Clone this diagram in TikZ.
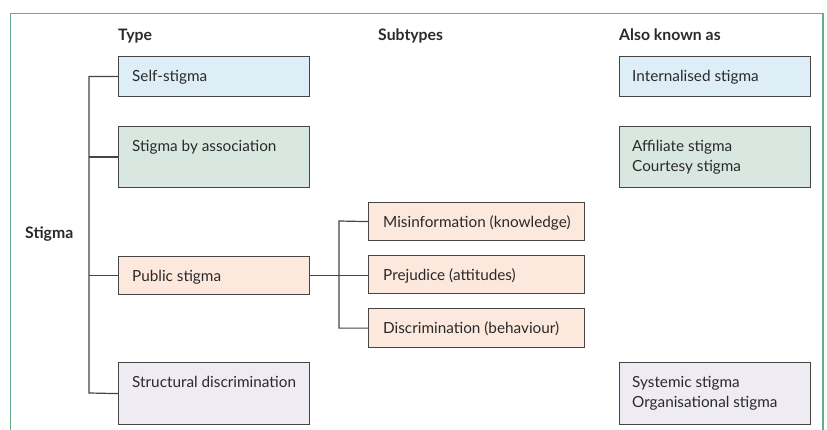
\documentclass[tikz,border=0pt]{standalone}
\usepackage{fontspec}
\setmainfont{Lato}
\definecolor{framec}{HTML}{62AE88}
\definecolor{boxline}{HTML}{454545}
\definecolor{fblue}{HTML}{DDEEF6}
\definecolor{fgreen}{HTML}{D8E8E1}
\definecolor{fpink}{HTML}{FDE8DE}
\definecolor{flav}{HTML}{EEEBF3}
\definecolor{textc}{HTML}{2A2A2A}
\begin{document}
\begin{tikzpicture}[x=1pt,y=-1pt,
  bx/.style={draw=boxline, line width=1.2pt, anchor=north west, inner sep=0pt, minimum width=191pt},
  sbx/.style={bx, minimum width=216pt},
  txt/.style={anchor=base west, inner sep=0pt, font=\fontsize{15.3}{18}\selectfont, text=textc},
  hd/.style={anchor=base west, inner sep=0pt, font=\fontsize{15.8}{18}\selectfont\bfseries, text=textc},
  ln/.style={draw=boxline, line width=1.2pt, line join=miter}]
\useasboundingbox (0,0) rectangle (827,430);
\draw[framec, line width=1.3pt] (10.5,430) -- (10.5,13.5) -- (823,13.5) -- (823,430);

% headers
\node[hd] (hType) at (118,40.5) {Type};
\node[hd] (hSub) at (378,40.5) {Subtypes};
\node[hd] (hAka) at (619,40.5) {Also known as};
\node[hd] (stigma) at (25,239) {Stigma};

% type boxes
\node[bx, fill=fblue, minimum height=40pt] (self) at (118,56) {};
\node[bx, fill=fgreen, minimum height=61pt] (assoc) at (118,126) {};
\node[bx, fill=fpink, minimum height=38pt] (public) at (118,256) {};
\node[bx, fill=flav, minimum height=62pt] (struct) at (118,362) {};

\node[txt] (tself) at (132,81.5) {Self-stigma};
\node[txt] (tassoc) at (132,151.5) {Stigma by association};
\node[txt] (tpublic) at (132,281.5) {Public stigma};
\node[txt] (tstruct) at (132,387) {Structural discrimination};

% subtype boxes
\node[sbx, fill=fpink, minimum height=38pt] (mis) at (368,202) {};
\node[sbx, fill=fpink, minimum height=38pt] (prej) at (368,255) {};
\node[sbx, fill=fpink, minimum height=39pt] (disc) at (368,308) {};
\node[txt] (tmis) at (383,227.5) {Misinformation (knowledge)};
\node[txt] (tprej) at (383,280.5) {Prejudice (attitudes)};
\node[txt] (tdisc) at (383,333.5) {Discrimination (behaviour)};

% also known as boxes
\node[bx, fill=fblue, minimum height=40pt] (intern) at (619,56) {};
\node[bx, fill=fgreen, minimum height=61pt] (affil) at (619,126) {};
\node[bx, fill=flav, minimum height=62pt] (syst) at (619,362) {};
\node[txt] (tintern) at (632,81.5) {Internalised stigma};
\node[txt] (taffil) at (632,151.5) {Affiliate stigma};
\node[txt] (tcourt) at (632,172) {Courtesy stigma};
\node[txt] (tsyst) at (632,387) {Systemic stigma};
\node[txt] (torg) at (632,407.5) {Organisational stigma};

% connectors
\coordinate (trunkTop) at (89,76);
\coordinate (trunkBot) at (89,393);
\draw[ln] (self.west) -| (trunkTop) -- (trunkBot) -- (struct.west);
\draw[ln] (assoc.west) -- (assoc.west -| trunkTop);
\draw[ln] (public.west) -- (public.west -| trunkTop);
\coordinate (subTop) at (339,221);
\draw[ln] (public.east) -- (public.east -| prej.west);
\draw[ln] (mis.west) -- (subTop) -- (subTop |- disc.west) -- (disc.west);
\end{tikzpicture}
\end{document}
